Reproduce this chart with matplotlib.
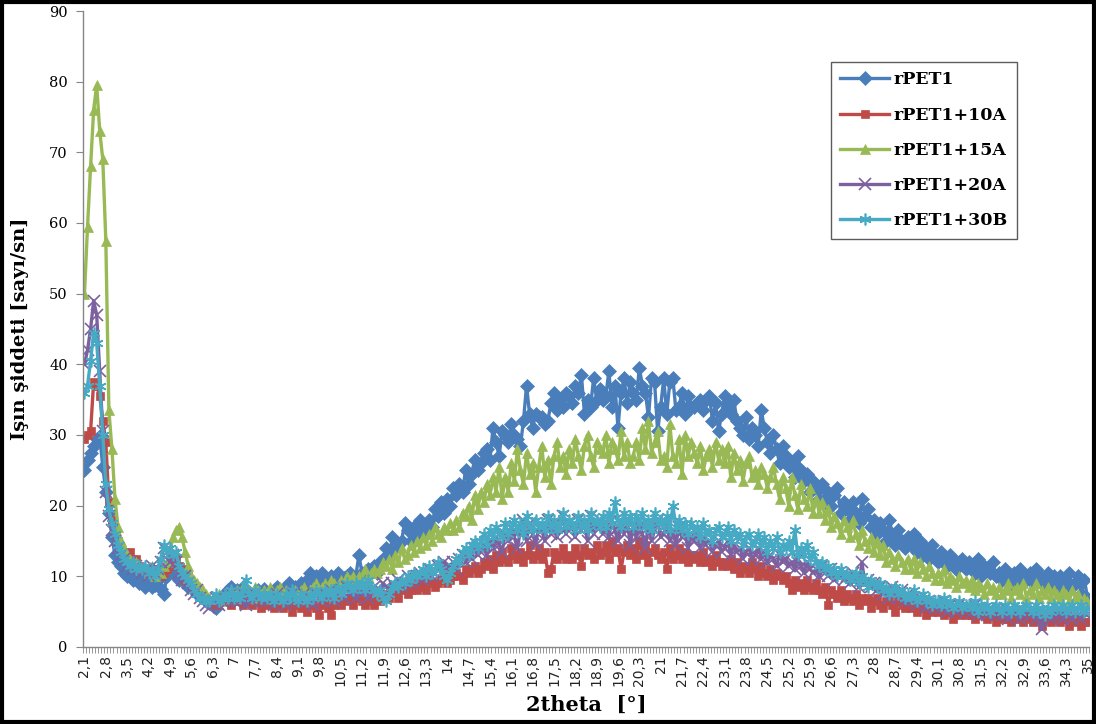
import numpy as np
import matplotlib
matplotlib.use("Agg")
import matplotlib.pyplot as plt
from matplotlib.patches import Rectangle

# 2theta categories 2.1 ... 35.0 step 0.1
theta = [round(2.1 + 0.1 * i, 1) for i in range(330)]

rpet1 = [
    25, 26.5, 27.5, 28.5, 29.5, 29.8, 25.5, 22, 19, 15.5,
    13, 12, 11.5, 10.5, 10, 10.5, 9.5, 9.8, 9, 9.5,
    8.5, 9, 8.5, 8.8, 9.5, 8.2, 7.5, 10, 11, 11.5,
    10, 9.5, 9.8, 9, 8.5, 8.6, 8, 7.5, 7.2, 7,
    6.5, 6.2, 6, 5.5, 6.5, 7, 7.5, 8, 8.5, 7.5,
    8, 7.5, 8.5, 7, 7.8, 6.5, 7.5, 8, 7.5, 8.2,
    7.5, 7.2, 8, 8.5, 7, 7.8, 8.5, 9, 8, 8.5,
    8, 9, 8.5, 9.5, 10.5, 9.5, 10, 9, 10.5, 9.5,
    8.5, 10, 9.5, 10.5, 9, 9.8, 10, 10.5, 9.5, 10,
    13, 10.5, 10, 11, 10.5, 11.5, 10.5, 12, 12.5, 14,
    13, 15.5, 14, 14.5, 15, 17.5, 16.5, 15, 17, 16,
    18, 17, 16.5, 18, 17, 19.5, 18.5, 20.5, 19, 21,
    20, 22.5, 21.5, 23, 22, 25, 23, 24.5, 26.5, 25,
    26, 27.5, 28, 26.5, 31, 29, 27, 30.5, 30, 29,
    31.5, 30, 29.5, 28.5, 32, 37, 33, 31, 33, 32.5,
    32.5, 31.5, 32, 34.5, 36, 33.5, 35, 34, 36, 35.5,
    34.5, 37, 36, 38.5, 33, 35, 34, 38, 35, 36.5,
    35, 35.5, 39, 34, 37, 31, 36, 38, 34.5, 37.5,
    36, 35, 39.5, 37, 36, 32.5, 38, 37.5, 30.5, 34,
    38, 33, 37.5, 38, 33.5, 34, 36, 33, 35.5, 34,
    34, 34.5, 35, 33.5, 35, 35.5, 32, 34.5, 30.5, 33,
    35.5, 34, 33, 35, 32, 31, 30, 32.5, 29.5, 31,
    30, 28.5, 33.5, 31, 29, 27.5, 30, 28, 26, 28.5,
    27, 25.5, 26, 24, 27, 25, 23.5, 24.5, 22, 23.5,
    22.5, 21, 23, 20.5, 22, 20, 21.5, 22.5, 19, 20.5,
    19.5, 18, 20.5, 19, 17.5, 21, 18.5, 19.5, 17, 18,
    16, 17.5, 16.5, 15, 18, 16, 14.5, 16.5, 15, 14,
    15.5, 14.5, 16, 13.5, 15, 13, 14, 12.5, 14.5, 13,
    12, 13.5, 12, 11.5, 13, 12.5, 11, 12, 12.5, 11,
    12, 11.5, 10.5, 12.5, 10, 11.5, 11, 10.5, 12, 10,
    10.5, 9.5, 11, 10, 9, 10.5, 9.5, 11, 10, 9.5,
    10.5, 9, 11, 9.5, 10, 8.5, 10.5, 9, 10, 8.5,
    10, 8, 9.5, 10.5, 8.5, 9, 10, 7.5, 9.5, 7,
]

rpet1_10a = [
    29.5, 30, 30.5, 37.5, 37, 35.5, 32, 29, 20.5, 18,
    16, 15, 14, 13.5, 13, 13.5, 12, 12.5, 11.5, 11,
    11, 10.5, 11, 10, 10.5, 10, 10.5, 11, 11.5, 12,
    12.5, 11.5, 11, 9.5, 10, 9, 8.5, 8, 7.5, 7,
    7, 6.5, 6.5, 6, 6.5, 7, 6.5, 7, 6, 6.5,
    7, 6.5, 6, 7, 6.5, 6, 6.5, 7, 5.5, 6.5,
    6, 6.5, 5.5, 6, 6.5, 5.5, 6, 6.5, 5, 6,
    6.5, 5.5, 6, 5, 6.5, 6, 5.5, 4.5, 6, 6.5,
    5.5, 4.5, 6, 6.5, 6, 7, 6.5, 7, 6, 7,
    7.5, 6.5, 6, 7, 6.5, 6, 7, 6.5, 7, 7.5,
    7, 7.5, 8, 7, 8, 8.5, 7.5, 8, 8.5, 8,
    9, 8.5, 8, 9.5, 9, 8.5, 9, 9.5, 10, 9,
    9.5, 10, 10.5, 10, 9.5, 11, 10.5, 11, 11.5, 10.5,
    11, 12, 11.5, 12.5, 11, 13, 12, 13.5, 12.5, 12,
    14, 13, 12.5, 13.5, 12, 13, 14.5, 12.5, 13, 14,
    12.5, 13.5, 10.5, 11, 13.5, 12.5, 13, 14, 12.5, 13,
    12.5, 14, 13, 11.5, 14, 13, 13.5, 12.5, 14.5, 13,
    13.5, 14.5, 12.5, 15, 13.5, 14, 11, 13.5, 14.5, 13,
    14, 12.5, 15, 13, 14.5, 12, 13.5, 14, 13, 12.5,
    13.5, 11, 14, 12.5, 13, 14, 12.5, 13.5, 12, 13,
    12.5, 13, 12, 13.5, 12, 12.5, 11.5, 13, 12, 11.5,
    12, 11.5, 12.5, 11, 12, 10.5, 11.5, 11, 10.5, 12,
    11, 10, 11.5, 10.5, 10, 11, 9.5, 10.5, 10, 9.5,
    10, 9, 8, 9.5, 8.5, 9, 8, 9.5, 8.5, 8,
    9, 8, 7.5, 8.5, 6, 8, 7.5, 7, 8, 6.5,
    7.5, 7, 6.5, 7.5, 6, 7, 6.5, 7, 5.5, 6.5,
    7, 6, 5.5, 6.5, 7, 6, 5, 6.5, 6, 5.5,
    6, 5.5, 6.5, 5, 6, 5.5, 4.5, 6, 5, 5.5,
    5, 5.5, 4.5, 5, 5.5, 4, 5, 4.5, 5.5, 4.5,
    5, 4.5, 4, 5, 4.5, 5.5, 4, 4.5, 5, 3.5,
    4.5, 4, 5, 4, 3.5, 4.5, 4, 5, 3.5, 4,
    4.5, 3.5, 4, 4.5, 3, 4, 4.5, 3.5, 4, 4.5,
    3.5, 4, 4.5, 3, 4, 3.5, 4, 3, 3.5, 3.5,
]

rpet1_15a = [
    50, 59.5, 68, 76, 79.5, 73, 69, 57.5, 33.5, 28,
    21, 17, 15, 14, 13, 12.5, 12, 12, 11.5, 11,
    11, 10.5, 11.5, 10, 11, 10.5, 11.5, 12, 13.5, 15.5,
    16.5, 17, 15.5, 13.5, 11.5, 10, 9.5, 9, 8.5, 8,
    7.5, 7, 6.8, 7, 7.5, 6.5, 7, 7.5, 8, 7.5,
    8, 7, 8.5, 7.5, 8, 7, 8.5, 8, 7.5, 8,
    7.5, 8.5, 7, 8, 8.5, 7.5, 8, 7, 7.5, 8,
    7.5, 8, 8.5, 7.5, 8, 8.5, 9, 8, 8.5, 9,
    8.5, 9.5, 9, 8, 9.5, 9, 10, 9.5, 10, 9,
    10, 9.5, 11, 10, 10.5, 11, 10.5, 11, 12, 11.5,
    12.5, 11, 13, 12, 14, 12.5, 13, 14.5, 13.5, 15,
    14, 15.5, 14.5, 16, 15, 17, 16, 15.5, 17, 16.5,
    17.5, 16.5, 18, 17, 19, 18.5, 20, 18, 21.5, 19.5,
    22, 20.5, 23, 21.5, 24, 22, 25.5, 21, 24, 22,
    26, 23.5, 28, 25, 23, 27.5, 24.5, 26, 22, 25.5,
    28.5, 24, 26.5, 23, 27, 29, 25.5, 27, 24.5, 28,
    26, 29.5, 27, 25, 28.5, 30, 27, 25.5, 29, 28,
    27.5, 30, 26, 29, 28, 26.5, 30.5, 27, 29, 26,
    27, 29, 26.5, 31, 28, 32, 27.5, 29, 30.5, 26.5,
    27, 25.5, 31.5, 27, 26, 29.5, 24.5, 30, 27, 29,
    27.5, 26, 28.5, 25, 27, 28, 25.5, 29, 26.5, 28,
    26, 28.5, 24, 27.5, 25, 26.5, 23.5, 26, 27, 24,
    25, 23, 25.5, 24.5, 22.5, 24, 25.5, 23, 21, 24,
    22.5, 20, 24, 21.5, 19.5, 23, 21, 20, 22.5, 19,
    21, 19, 20.5, 18, 19.5, 17, 18.5, 17.5, 16, 18,
    17, 15.5, 18, 16, 14.5, 16.5, 15, 14, 15.5, 13.5,
    15, 13, 14.5, 12, 13.5, 12.5, 11.5, 13, 12, 11,
    12.5, 11, 12.5, 10.5, 12, 11, 10, 11.5, 10.5, 9.5,
    10.5, 9.5, 11, 9, 10, 9.5, 8.5, 10, 9, 9.5,
    8.5, 9.5, 8, 9, 8.5, 7.5, 9, 8, 8.5, 7.5,
    8.5, 7.5, 8, 9, 7, 8, 8.5, 7.5, 9, 7,
    8, 7.5, 9, 7, 8, 7.5, 8.5, 7, 8, 7.5,
    7, 8, 7.5, 6.5, 8, 7, 7.5, 6.5, 7, 6.5,
]

rpet1_20a = [
    40, 42, 45, 49, 47, 39, 30.5, 22, 18.5, 16.5,
    15, 14, 13, 12.5, 11.5, 12, 11, 11.5, 11, 10.5,
    11, 10, 11.5, 10.5, 11, 12, 14, 13.5, 12, 13,
    12, 10.5, 9.5, 10, 9, 8, 7.5, 8, 7, 6.5,
    6, 5.5, 6.5, 7, 6, 6.5, 7, 6.5, 7.5, 6.5,
    7, 6.5, 7.5, 6, 7, 6.5, 7.5, 7, 6.5, 7,
    6.5, 7, 6, 7.5, 6.5, 7, 6, 7, 7.5, 6.5,
    7, 6.5, 7.5, 6.5, 7, 6, 7.5, 7, 6.5, 7.5,
    7, 8, 6.5, 7.5, 8, 7, 8.5, 7.5, 8, 7,
    8, 7.5, 8.5, 7, 8, 8.5, 7.5, 8, 9, 8.5,
    8, 9, 8.5, 9.5, 8.5, 9, 10, 9, 9.5, 10,
    10.5, 9.5, 10, 11, 10, 10.5, 11.5, 10.5, 12, 11,
    11.5, 12, 11, 12.5, 13, 12, 13.5, 12.5, 14, 13,
    13.5, 14.5, 13, 15, 14, 15.5, 14.5, 13.5, 16, 15,
    17, 15.5, 14, 16.5, 18, 15, 17.5, 16, 14.5, 17,
    16.5, 15, 18, 16, 17.5, 15.5, 17, 18.5, 16, 17.5,
    17, 15.5, 18, 16.5, 17.5, 15, 18.5, 16, 17, 18,
    16, 17.5, 15.5, 18, 16.5, 15, 17.5, 16, 18, 14.5,
    17, 15.5, 18, 16, 14, 17.5, 15, 16.5, 18, 15.5,
    16, 17.5, 15, 16.5, 14.5, 17, 15.5, 16, 14, 15.5,
    15, 16.5, 14, 15.5, 14.5, 15, 13.5, 14.5, 15, 13.5,
    14, 15, 13, 14.5, 13.5, 14, 12.5, 13.5, 14, 12.5,
    13, 14, 12.5, 13.5, 12, 13, 12.5, 11.5, 13, 12,
    12.5, 11.5, 12, 11, 12.5, 11.5, 10.5, 12, 11, 10.5,
    11, 10, 11.5, 10.5, 10, 11, 9.5, 10.5, 10, 9.5,
    10, 9, 10.5, 9.5, 8.5, 12, 9, 9.5, 8.5, 9,
    8, 8.5, 7.5, 8, 7, 8.5, 7.5, 7, 8, 6.5,
    7.5, 6.5, 7, 6, 7, 6.5, 5.5, 6.5, 6, 5.5,
    6, 5.5, 6.5, 5, 6, 5.5, 5, 6, 5.5, 5,
    5.5, 5, 6, 4.5, 5.5, 5, 4.5, 5.5, 5, 4.5,
    5, 4.5, 5.5, 4, 5, 4.5, 5, 4, 4.5, 5,
    4.5, 5, 4, 4.5, 2.5, 4.5, 5, 4, 4.5, 5,
    4.5, 4, 5, 4.5, 4, 5, 4.5, 4, 5, 4.5,
]

rpet1_30b = [
    36, 37, 40.5, 44.5, 43, 37, 30, 23, 19.5, 17.5,
    16, 14.5, 13.5, 12.5, 12, 11.5, 12, 11, 11.5, 11,
    11.5, 10.5, 11, 10, 11, 12.5, 14.5, 13.5, 14, 13,
    13.5, 11.5, 10.5, 10, 9.5, 9, 8, 7.5, 7, 7,
    6.5, 6.5, 7, 7.5, 6.5, 7, 7.5, 7, 8, 7,
    7.5, 7, 8, 9.5, 7.5, 7, 8, 7.5, 7, 7.5,
    7, 7.5, 6.5, 7.5, 7, 6.5, 7.5, 7, 8, 7,
    6.5, 7.5, 7, 6.5, 7.5, 7, 8, 7.5, 7, 8,
    7.5, 8, 7, 8.5, 7.5, 8, 9, 8.5, 8, 9,
    8.5, 9, 8, 9.5, 8.5, 8, 7.5, 8, 7, 6.5,
    7.5, 8.5, 9, 8.5, 9.5, 9, 10, 9.5, 10.5, 10,
    10.5, 11, 10, 11.5, 10.5, 11, 12, 11, 10, 9.5,
    10.5, 11.5, 12.5, 12, 13.5, 14, 13, 14.5, 15, 14,
    15, 16, 14.5, 16.5, 15.5, 17, 16, 15.5, 17.5, 16,
    17, 18, 16.5, 17.5, 16, 18.5, 17, 16.5, 18, 17,
    17.5, 16.5, 18.5, 17, 18, 16.5, 17.5, 19, 17, 18,
    17.5, 16.5, 18.5, 17, 18, 16.5, 19, 17.5, 18, 17,
    18.5, 17, 19, 17.5, 20.5, 18, 17, 19, 17.5, 18.5,
    17, 18.5, 17.5, 19, 17, 18, 16.5, 19, 17.5, 18,
    17, 18.5, 16.5, 20, 17, 18, 16.5, 17.5, 16, 17.5,
    16.5, 17, 15.5, 17.5, 16, 16.5, 15, 16.5, 17, 15.5,
    16, 17, 15, 16.5, 15.5, 16, 14.5, 15.5, 16, 14.5,
    15, 16, 14.5, 15.5, 13.5, 15, 14, 15.5, 13.5, 14.5,
    14, 15, 13.5, 16.5, 13, 14, 13, 14.5, 12.5, 13.5,
    12, 11.5, 12, 11, 11.5, 10.5, 11, 10, 11, 10,
    10.5, 9.5, 10, 10.5, 9, 10, 9.5, 8.5, 9.5, 9,
    8.5, 9, 8, 8.5, 7.5, 8, 8.5, 7.5, 8, 7,
    7.5, 7, 8, 6.5, 7, 7.5, 6.5, 7, 6, 6.5,
    6.5, 6, 7, 6, 6.5, 5.5, 6, 6.5, 5.5, 6,
    6, 5.5, 6.5, 5, 6, 5.5, 6, 5, 5.5, 6,
    5.5, 5, 6, 5.5, 5, 6, 5.5, 5, 5.5, 6,
    5.5, 5, 6, 5, 5.5, 4.5, 5.5, 5, 6, 5.5,
    5.5, 6, 5, 5.5, 6, 5, 5.5, 6, 5, 5.5,
]

series_names = ["rPET1", "rPET1+10A", "rPET1+15A", "rPET1+20A", "rPET1+30B"]
series_values = [rpet1, rpet1_10a, rpet1_15a, rpet1_20a, rpet1_30b]
colors = ["#4A7EBB", "#BE4B48", "#98B954", "#7D60A0", "#46AAC5"]
markers = ["D", "s", "^", "x", (6, 2, 0)]
msizes = [7, 6, 7.5, 8, 8.5]

fig = plt.figure(figsize=(10.96, 7.24), dpi=100)
ax = fig.add_axes([0.0757, 0.1064, 0.9179, 0.8784])

x = np.arange(len(theta))
for name, vals, c, m, ms in zip(series_names, series_values, colors, markers, msizes):
    ax.plot(x, vals, color=c, lw=2.4, marker=m, markersize=ms,
            markeredgewidth=1.2 if m in ("x", (6, 2, 0)) else 0.5,
            markeredgecolor=c, markerfacecolor=c, label=name)

ax.set_xlim(-0.5, len(theta) - 0.5)
ax.set_ylim(0, 90)
ax.set_yticks(np.arange(0, 91, 10))
ax.set_yticklabels([str(v) for v in range(0, 91, 10)], fontfamily="DejaVu Serif", fontsize=10.5)

def lab(v):
    s = f"{v:.1f}".replace(".", ",")
    return s[:-2] if s.endswith(",0") else s

major_idx = list(range(0, len(theta), 7))
ax.set_xticks(major_idx)
ax.set_xticklabels([lab(theta[i]) for i in major_idx], rotation=90, fontsize=10,
                   fontfamily="DejaVu Sans", color="#222222")
ax.set_xticks(np.arange(-0.5, len(theta), 1), minor=True)
ax.tick_params(axis="x", which="major", length=0, pad=6)
ax.tick_params(axis="x", which="minor", length=4, color="#868686", width=0.6)
ax.tick_params(axis="y", which="major", length=5, color="#868686", pad=6)

for s in ["top", "right"]:
    ax.spines[s].set_visible(False)
for s in ["left", "bottom"]:
    ax.spines[s].set_color("#868686")
    ax.spines[s].set_linewidth(1.0)

ax.set_xlabel("2theta  [°]", fontsize=15, fontweight="bold", fontfamily="DejaVu Serif", labelpad=6)
ax.set_ylabel("Işın şiddeti [sayı/sn]", fontsize=14, fontweight="bold", fontfamily="DejaVu Serif", labelpad=14)

leg = ax.legend(loc="upper left", bbox_to_anchor=(0.7435, 0.92), frameon=True, fancybox=False,
                edgecolor="#333333", prop={"family": "DejaVu Serif", "weight": "bold", "size": 12.5},
                handlelength=2.8, labelspacing=1.05, borderpad=0.55, handletextpad=0.25,
                borderaxespad=0)
leg.get_frame().set_linewidth(1.0)

fig.patches.append(Rectangle((0.002, 0.003), 0.996, 0.994, transform=fig.transFigure,
                             fill=False, edgecolor="black", linewidth=3))

fig.savefig("out.png", dpi=100)
